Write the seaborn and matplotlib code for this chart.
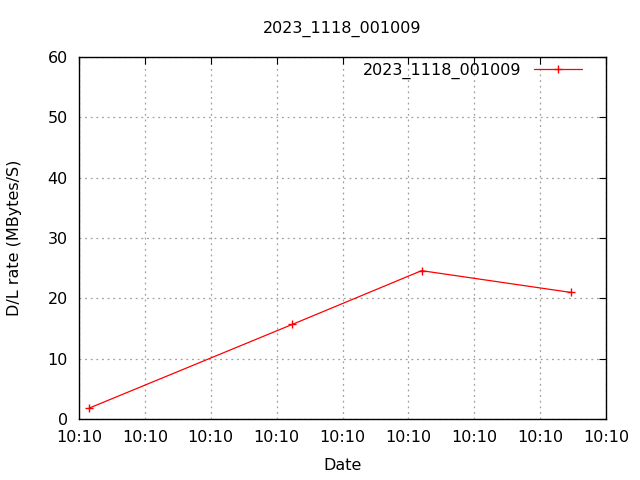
import pandas as pd
import seaborn as sns
import matplotlib.pyplot as plt

# seconds from start of the run
seconds = [0.76, 16.2, 26.0, 37.3]
rates = [1.8, 15.7, 24.6, 21.0]
run_name = "2023_1118_001009"
tick_seconds = [0, 5, 10, 15, 20, 25, 30, 35, 40]
tick_labels = ["10:10"] * 9

df = pd.DataFrame({"Date": seconds, "rate": rates, "run": run_name})

sns.set_style("white")
plt.rcParams["font.family"] = ["DejaVu Sans"]
plt.rcParams["text.color"] = "black"
plt.rcParams["axes.labelcolor"] = "black"
plt.rcParams["xtick.color"] = "black"
plt.rcParams["ytick.color"] = "black"

fs = 11.5
fig = plt.figure(figsize=(6.4, 4.8), dpi=100)
ax = fig.add_axes([0.1234, 0.127, 0.8236, 0.754])

sns.lineplot(data=df, x="Date", y="rate", hue="run", palette=["red"],
             marker="+", markersize=6, markeredgewidth=1.0, markeredgecolor="red",
             linewidth=0.9, ax=ax)

ax.set_xlim(0, 40)
ax.set_ylim(0, 60)
ax.set_xticks(tick_seconds)
ax.set_xticklabels(tick_labels)
ax.set_yticks(range(0, 61, 10))
ax.tick_params(direction="in", length=5, top=True, right=True, labelsize=fs, pad=8)
ax.grid(True, color="#a0a0a0", linestyle=(0, (1.5, 3)), linewidth=0.9)
for s in ax.spines.values():
    s.set_color("black")
    s.set_linewidth(1.0)

ax.set_xlabel("Date", fontsize=fs, labelpad=9.5)
ax.set_ylabel("D/L rate (MBytes/S)", fontsize=fs, labelpad=18)
ax.set_title(run_name, fontsize=fs, pad=17.5)

h, l = ax.get_legend_handles_labels()
ax.legend(h, l, loc="upper right", bbox_to_anchor=(0.965, 1.0), frameon=False,
          fontsize=fs, markerfirst=False, handlelength=3.0, borderaxespad=0.0,
          borderpad=0.35, handletextpad=0.8)

fig.savefig("out.png", dpi=100)
